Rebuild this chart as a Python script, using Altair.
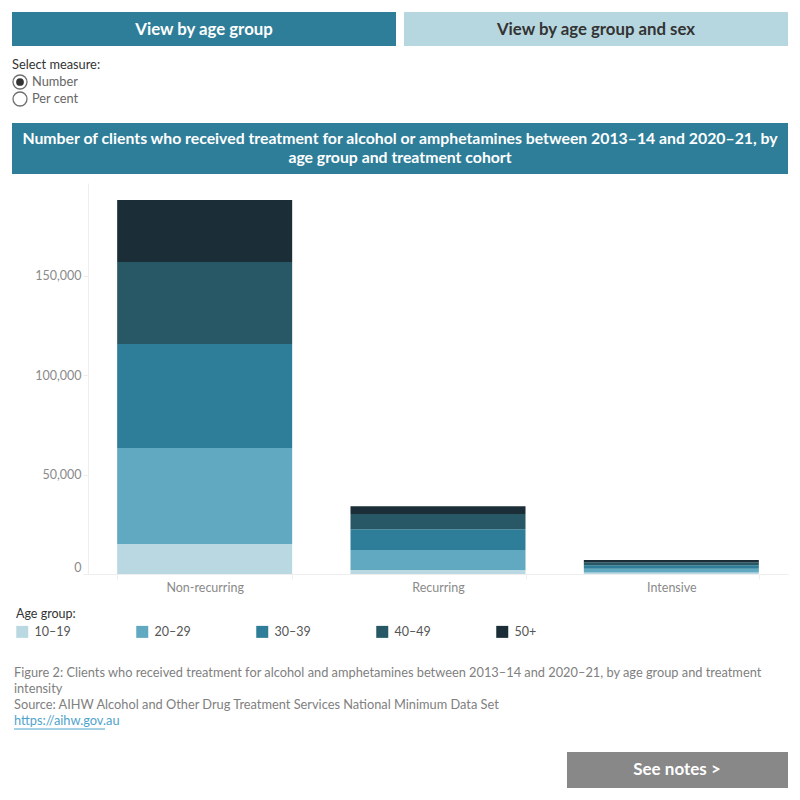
import altair as alt
import pandas as pd

# ---- data ----
cohorts = ["Non-recurring", "Recurring", "Intensive"]
age_groups = ["10–19", "20–29", "30–39", "40–49", "50+"]
non_recurring = [15100, 48200, 52300, 41200, 31200]
recurring = [2000, 10000, 10500, 7600, 4000]
intensive = [700, 2000, 1700, 1500, 1100]
colors = ["#b9d8e1", "#61a9c0", "#2e7e99", "#285766", "#1b2e37"]

rows = []
for cohort, vals in zip(cohorts, [non_recurring, recurring, intensive]):
    for i, (a, v) in enumerate(zip(age_groups, vals)):
        rows.append({"cohort": cohort, "age": a, "clients": v, "order": i})
df = pd.DataFrame(rows)

FONT = "Lato"
OX, OY = 88, 183  # plot origin in page pixels


def X(px):
    return px - OX


def Y(py):
    return py - OY


one = pd.DataFrame({"k": [0]})


def rect(x1, y1, x2, y2, color):
    return alt.Chart(one).mark_rect(color=color).encode(
        x=alt.value(X(x1)), x2=alt.value(X(x2)), y=alt.value(Y(y1)), y2=alt.value(Y(y2))
    )


def text(t, x, y, size=12, color="#333333", weight="normal", align="left"):
    return alt.Chart(one).mark_text(
        text=t, fontSize=size, color=color, fontWeight=weight, align=align,
        baseline="middle", font=FONT
    ).encode(x=alt.value(X(x)), y=alt.value(Y(y)))


bars = alt.Chart(df).mark_bar().encode(
    x=alt.X(
        "cohort:N", sort=cohorts, title=None,
        scale=alt.Scale(paddingInner=0.25, paddingOuter=0.125),
        axis=alt.Axis(labelAngle=0, labelColor="#8a8a8a", labelFontSize=12.5, labelFont=FONT,
                      domainColor="#eeeeee", tickColor="#eeeeee", tickSize=5,
                      tickBand="extent", labelPadding=2),
    ),
    y=alt.Y(
        "clients:Q", title=None, stack="zero",
        scale=alt.Scale(domain=[0, 196500], nice=False),
        axis=alt.Axis(values=[0, 50000, 100000, 150000], format=",.0f", grid=False,
                      labelColor="#8a8a8a", labelFontSize=12.5, labelFont=FONT,
                      domainColor="#eeeeee", tickColor="#eeeeee", tickSize=5,
                      labelPadding=2, labelFlush=True),
    ),
    color=alt.Color(
        "age:N", sort=age_groups,
        scale=alt.Scale(domain=age_groups, range=colors),
        legend=alt.Legend(
            title="Age group:", orient="none", legendX=X(16), legendY=Y(608),
            direction="horizontal", columns=5, gridAlign="all", columnPadding=65,
            symbolType="square", symbolSize=144, symbolStrokeWidth=0,
            labelFontSize=12.5, labelColor="#555555", labelFont=FONT,
            titleFontSize=12.5, titleFontWeight="normal", titleColor="#333333",
            titleFont=FONT, titlePadding=5, labelOffset=6,
        ),
    ),
    order=alt.Order("order:Q", sort="ascending"),
)

layers = [
    # header buttons
    rect(12, 12, 396, 46, "#2e7e99"),
    text("View by age group", 204, 30, size=16.8, color="white", weight="bold", align="center"),
    rect(404, 12, 788, 46, "#b7d7e0"),
    text("View by age group and sex", 596, 30, size=16.8, color="#333333", weight="bold", align="center"),
    # measure selector
    text("Select measure:", 12, 65, size=12.8, color="#333333"),
    alt.Chart(one).mark_point(shape="circle", size=196, filled=False, stroke="#333333",
                              strokeWidth=1.3).encode(x=alt.value(X(20)), y=alt.value(Y(82))),
    alt.Chart(one).mark_point(shape="circle", size=60, filled=True, color="#333333",
                              opacity=1).encode(x=alt.value(X(20)), y=alt.value(Y(82))),
    text("Number", 32, 82, size=12.8, color="#666666"),
    alt.Chart(one).mark_point(shape="circle", size=196, filled=False, stroke="#333333",
                              strokeWidth=1.3).encode(x=alt.value(X(20)), y=alt.value(Y(99))),
    text("Per cent", 32, 99, size=12.8, color="#666666"),
    # title band
    rect(12, 123, 788, 174, "#2e7e99"),
    text("Number of clients who received treatment for alcohol or amphetamines between 2013–14 and 2020–21, by",
         400, 139, size=15.8, color="white", weight="bold", align="center"),
    text("age group and treatment cohort", 400, 158, size=15.8, color="white", weight="bold", align="center"),
    bars,
    # footer
    text("Figure 2: Clients who received treatment for alcohol and amphetamines between 2013–14 and 2020–21, by age group and treatment",
         14, 673, size=12.8, color="#808080"),
    text("intensity", 14, 689, size=12.8, color="#808080"),
    text("Source: AIHW Alcohol and Other Drug Treatment Services National Minimum Data Set",
         14, 705, size=12.8, color="#808080"),
    text("https://aihw.gov.au", 14, 721, size=12.8, color="#4fa3cc"),
    alt.Chart(one).mark_rule(color="#4fa3cc", strokeWidth=1).encode(
        x=alt.value(X(14)), x2=alt.value(X(105)), y=alt.value(Y(729))),
    rect(567, 752, 788, 788, "#888888"),
    text("See notes >", 677, 770, size=17, color="white", weight="bold", align="center"),
]

chart = alt.layer(*layers).properties(
    width=700, height=391,
    padding={"left": OX, "top": OY, "right": 12, "bottom": 800 - OY - 391},
    autosize=alt.AutoSizeParams(type="none"),
    background="white",
).configure_view(stroke=None)

chart.save("out.html", embed_options={"renderer": "svg", "actions": False})
